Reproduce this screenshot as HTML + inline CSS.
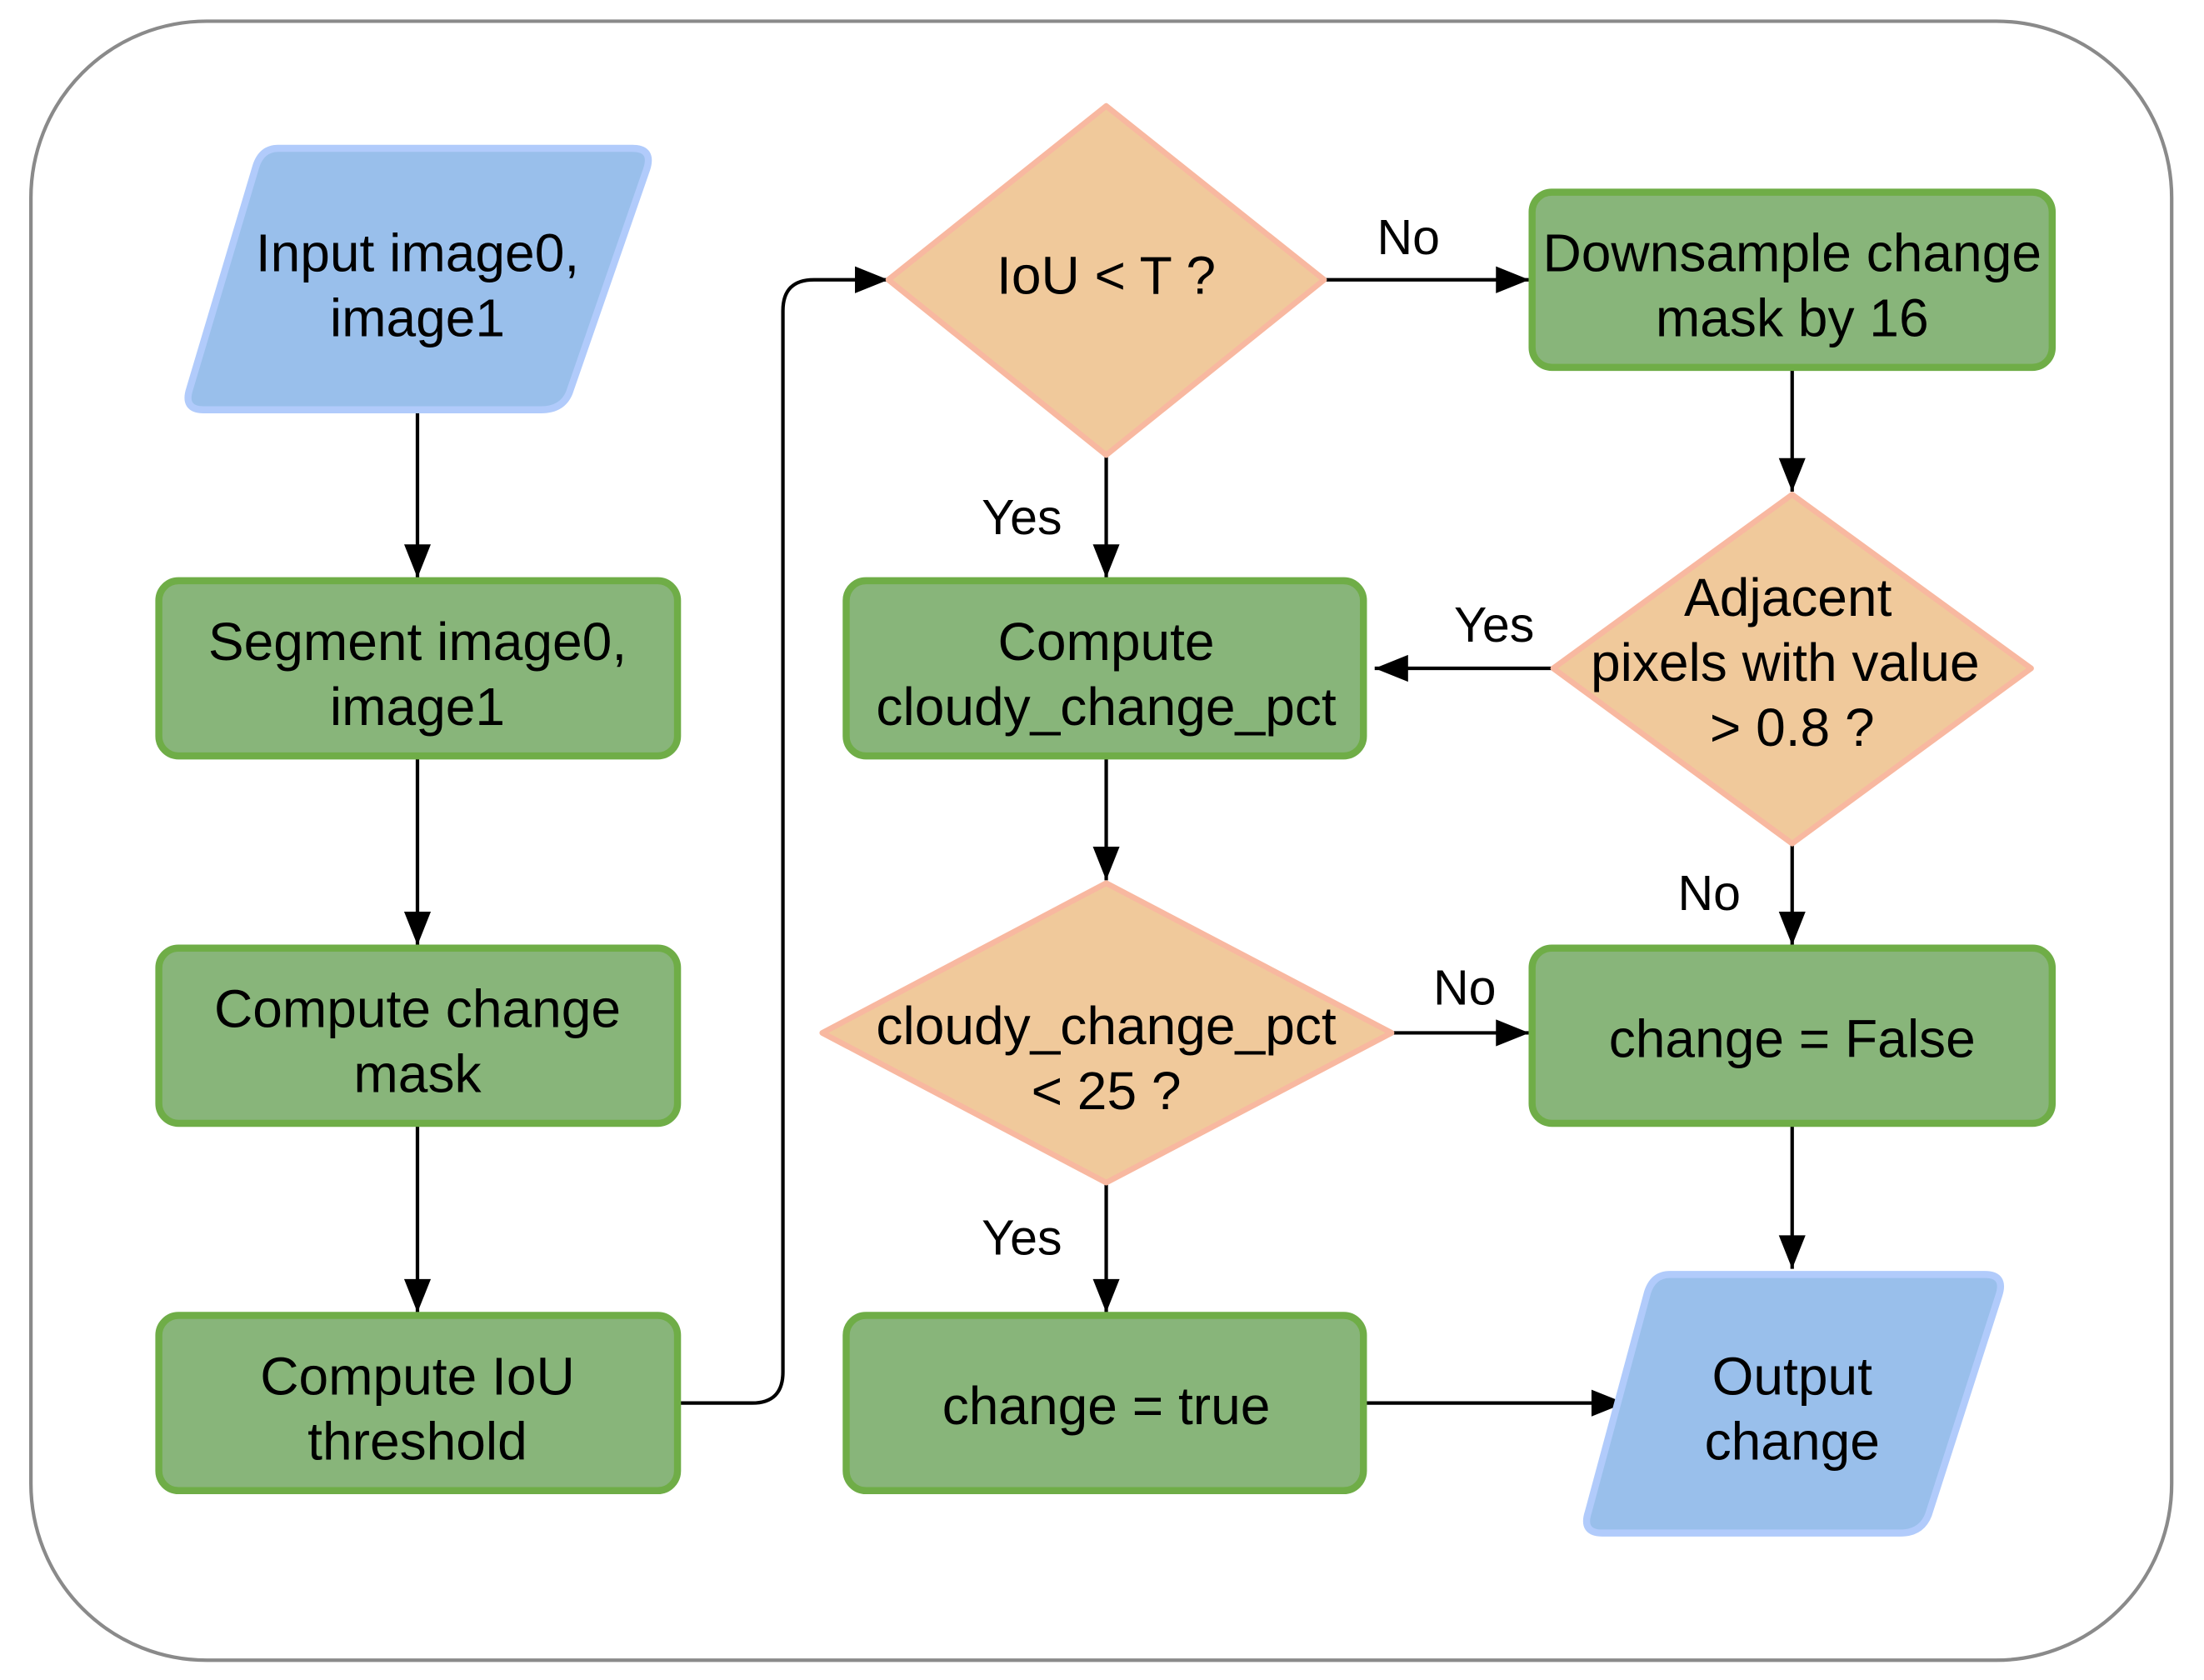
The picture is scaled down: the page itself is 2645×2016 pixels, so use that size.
<!DOCTYPE html>
<html><head><meta charset="utf-8"><style>html,body{margin:0;padding:0;background:#fff}svg{display:block}</style></head><body>
<svg width="2645" height="2016" viewBox="0 0 1568 1189" preserveAspectRatio="none" xmlns="http://www.w3.org/2000/svg" font-family="Liberation Sans, Arial, sans-serif" font-size="38" text-anchor="middle">
<defs>
<marker id="b" viewBox="0 0 10 8" refX="10" refY="4" markerWidth="32" markerHeight="19" orient="auto" markerUnits="userSpaceOnUse"><path d="M0,0 L10,4 L0,8 Z" fill="#000"/></marker></defs>
<rect x="22" y="15" width="1523" height="1160" rx="125" fill="#fff" stroke="#8a8a8a" stroke-width="2.5"/>
<g fill="none" stroke="#000" stroke-width="2.5" marker-end="url(#b)">
<line x1="297" y1="292" x2="297" y2="409"/>
<line x1="297" y1="537" x2="297" y2="669"/>
<line x1="297" y1="797" x2="297" y2="929"/>
<path d="M484,993 H535 Q557,993 557,971 V220 Q557,198 579,198 H632"/>
<line x1="942" y1="198" x2="1088" y2="198"/>
<line x1="787" y1="322" x2="787" y2="409"/>
<line x1="1275" y1="262" x2="1275" y2="348"/>
<line x1="1105" y1="473" x2="978" y2="473"/>
<line x1="787" y1="537" x2="787" y2="623"/>
<line x1="990" y1="731" x2="1088" y2="731"/>
<line x1="1275" y1="597" x2="1275" y2="669"/>
<line x1="787" y1="837" x2="787" y2="929"/>
<line x1="1275" y1="797" x2="1275" y2="898"/>
<line x1="972" y1="993" x2="1156" y2="993"/>
</g>
<g fill="#99bfeb" stroke="#b1cbfb" stroke-width="5" stroke-linejoin="round">
<path d="M198,105 H450 Q465,105 460,120 L405,278 Q400,290 385,290 H145 Q130,290 135,275 L182,118 Q186,105 198,105Z"/>
<path d="M1188,902 H1412 Q1427,902 1422,917 L1372,1072 Q1367,1085 1352,1085 H1140 Q1125,1085 1130,1070 L1172,915 Q1176,902 1188,902Z"/>
</g>
<g fill="#88b57a" stroke="#6fad47" stroke-width="5">
<rect x="113" y="411" width="369" height="124" rx="14"/>
<rect x="113" y="671" width="369" height="124" rx="14"/>
<rect x="113" y="931" width="369" height="124" rx="14"/>
<rect x="602" y="411" width="368" height="124" rx="14"/>
<rect x="602" y="931" width="368" height="124" rx="14"/>
<rect x="1090" y="136" width="370" height="124" rx="14"/>
<rect x="1090" y="671" width="370" height="124" rx="14"/>
</g>
<g fill="#f0c99b" stroke="#f8b8a0" stroke-width="4" stroke-linejoin="round">
<path d="M787,75 L942,198 L787,322 L632,198Z"/>
<path d="M787,625 L990,731 L787,837 L585,731Z"/>
<path d="M1275,350 L1445,473 L1275,597 L1105,473Z"/>
</g>
<g fill="#000">
<text x="297" y="192">Input image0,</text><text x="297" y="238">image1</text>
<text x="297" y="467">Segment image0,</text><text x="297" y="513">image1</text>
<text x="297" y="727">Compute change</text><text x="297" y="773">mask</text>
<text x="297" y="987">Compute IoU</text><text x="297" y="1033">threshold</text>
<text x="787" y="208">IoU &lt; T ?</text>
<text x="787" y="467">Compute</text><text x="787" y="513">cloudy_change_pct</text>
<text x="787" y="739">cloudy_change_pct</text><text x="787" y="785">&lt; 25 ?</text>
<text x="787" y="1008">change = true</text>
<text x="1275" y="192">Downsample change</text><text x="1275" y="238">mask by 16</text>
<text x="1272" y="436">Adjacent</text><text x="1270" y="482">pixels with value</text><text x="1275" y="528">&gt; 0.8 ?</text>
<text x="1275" y="748">change = False</text>
<text x="1275" y="987">Output</text><text x="1275" y="1033">change</text>
<g font-size="35">
<text x="1002" y="180">No</text>
<text x="727" y="378">Yes</text>
<text x="1063" y="454">Yes</text>
<text x="1216" y="644">No</text>
<text x="1042" y="711">No</text>
<text x="727" y="888">Yes</text>
</g>
</g>
</svg>
</body></html>
